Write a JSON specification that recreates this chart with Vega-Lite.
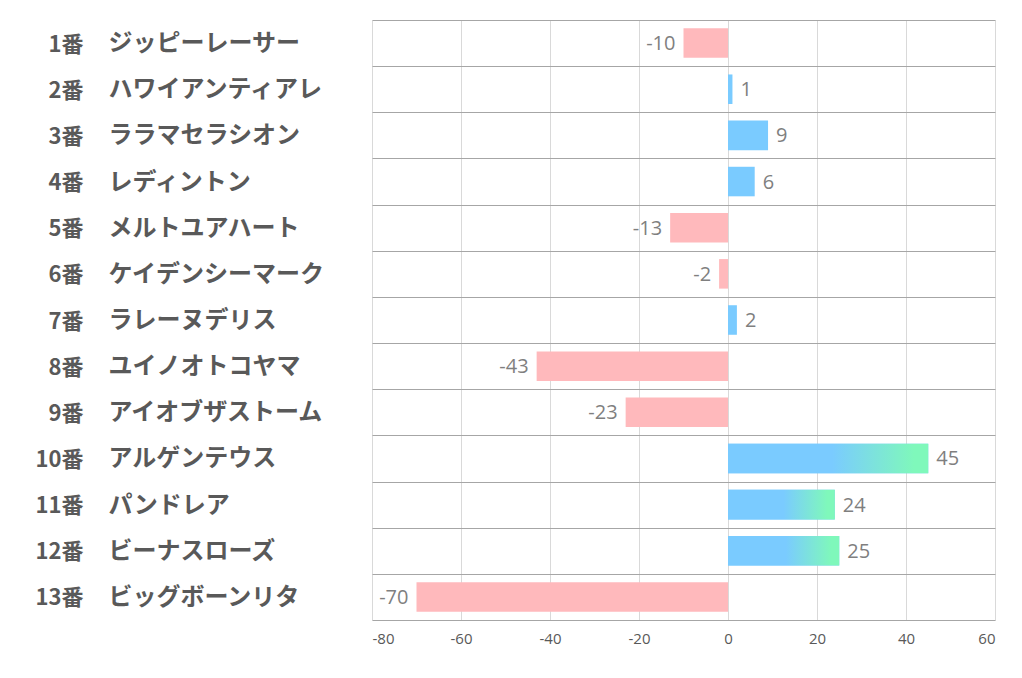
{
  "$schema": "https://vega.github.io/schema/vega-lite/v6.json",
  "autosize": {"type": "none"},
  "padding": {"left": 372, "top": 20, "right": 27, "bottom": 58},
  "width": 623,
  "height": 600,
  "background": "white",
  "data": {
    "values": [
      {"no": 1, "num": "1番", "name": "ジッピーレーサー", "value": -10},
      {"no": 2, "num": "2番", "name": "ハワイアンティアレ", "value": 1},
      {"no": 3, "num": "3番", "name": "ララマセラシオン", "value": 9},
      {"no": 4, "num": "4番", "name": "レディントン", "value": 6},
      {"no": 5, "num": "5番", "name": "メルトユアハート", "value": -13},
      {"no": 6, "num": "6番", "name": "ケイデンシーマーク", "value": -2},
      {"no": 7, "num": "7番", "name": "ラレーヌデリス", "value": 2},
      {"no": 8, "num": "8番", "name": "ユイノオトコヤマ", "value": -43},
      {"no": 9, "num": "9番", "name": "アイオブザストーム", "value": -23},
      {"no": 10, "num": "10番", "name": "アルゲンテウス", "value": 45},
      {"no": 11, "num": "11番", "name": "パンドレア", "value": 24},
      {"no": 12, "num": "12番", "name": "ビーナスローズ", "value": 25},
      {"no": 13, "num": "13番", "name": "ビッグボーンリタ", "value": -70}
    ]
  },
  "resolve": {"scale": {"y": "independent"}, "axis": {"y": "independent"}},
  "layer": [
    {
      "mark": {"type": "bar", "height": {"band": 0.64}},
      "encoding": {
        "y": {
          "field": "num",
          "type": "nominal",
          "sort": {"field": "no", "op": "min"},
          "title": null,
          "scale": {"paddingInner": 0, "paddingOuter": 0},
          "axis": {
            "orient": "left",
            "domain": false,
            "ticks": false,
            "grid": true,
            "gridColor": "#a6a6a6",
            "gridWidth": 1,
            "tickBand": "extent",
            "labelAlign": "right",
            "labelPadding": 289,
            "labelOffset": 1,
            "labelFont": "Noto Sans CJK JP",
            "labelFontSize": 22,
            "labelFontWeight": "bold",
            "labelColor": "#595959"
          }
        },
        "x": {
          "field": "value",
          "type": "quantitative",
          "title": null,
          "scale": {"domain": [-80, 60], "nice": false},
          "axis": {
            "values": [-80, -60, -40, -20, 0, 20, 40, 60],
            "labelExpr": "'' + datum.value",
            "domain": false,
            "ticks": false,
            "grid": true,
            "gridColor": "#d9d9d9",
            "labelFont": "Open Sans",
            "labelFontSize": 15,
            "labelColor": "#595959",
            "labelPadding": 11
          }
        },
        "color": {
          "condition": {"test": "datum.value < 0", "value": "#ffb9bc"},
          "value": "#7acbff"
        }
      }
    },
    {
      "transform": [{"filter": "datum.value >= 20"}],
      "mark": {
        "type": "bar",
        "height": {"band": 0.64},
        "color": {
          "gradient": "linear",
          "x1": 0, "x2": 1, "y1": 0, "y2": 0,
          "stops": [
            {"offset": 0, "color": "#7acbff"},
            {"offset": 0.52, "color": "#7acbff"},
            {"offset": 0.93, "color": "#7ff8bb"},
            {"offset": 1, "color": "#7ff8bb"}
          ]
        }
      },
      "encoding": {
        "y": {
          "field": "name",
          "type": "nominal",
          "sort": {"field": "no", "op": "min"},
          "title": null,
          "scale": {"domain": ["ジッピーレーサー", "ハワイアンティアレ", "ララマセラシオン", "レディントン", "メルトユアハート", "ケイデンシーマーク", "ラレーヌデリス", "ユイノオトコヤマ", "アイオブザストーム", "アルゲンテウス", "パンドレア", "ビーナスローズ", "ビッグボーンリタ"], "paddingInner": 0, "paddingOuter": 0},
          "axis": {
            "orient": "left",
            "domain": false,
            "ticks": false,
            "grid": false,
            "labelAlign": "left",
            "labelPadding": 264,
            "labelOffset": 1,
            "labelFont": "Noto Sans CJK JP",
            "labelFontSize": 24,
            "labelFontWeight": "bold",
            "labelColor": "#595959",
            "labelLimit": 400
          }
        },
        "x": {"field": "value", "type": "quantitative"}
      }
    },
    {
      "mark": {"type": "text", "fontSize": 20, "font": "Open Sans", "color": "#7f7f7f", "align": {"expr": "datum.value < 0 ? 'right' : 'left'"}, "dx": {"expr": "datum.value < 0 ? -8 : 8"}, "dy": 1},
      "encoding": {
        "y": {"field": "num", "type": "nominal", "sort": {"field": "no", "op": "min"}, "axis": null, "scale": {"paddingInner": 0, "paddingOuter": 0}},
        "x": {"field": "value", "type": "quantitative"},
        "text": {"field": "value", "type": "nominal"}
      }
    }
  ],
  "config": {"view": {"stroke": null}}
}
